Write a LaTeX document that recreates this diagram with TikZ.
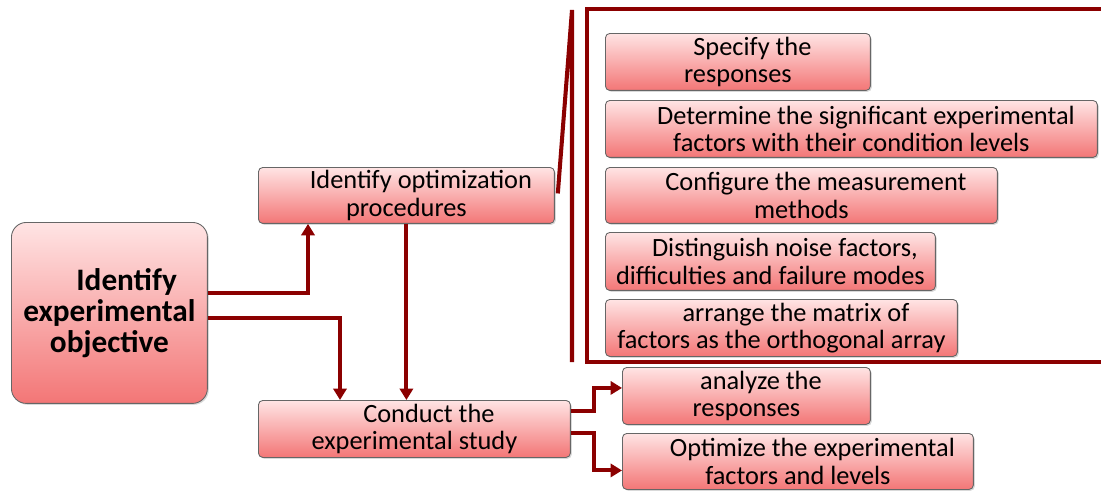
\documentclass[tikz,border=0pt]{standalone}
\usepackage{fontspec}
\setmainfont{Carlito}
\usetikzlibrary{arrows.meta,positioning,shadows}
\definecolor{linkred}{RGB}{139,0,0}
\definecolor{boxtop}{RGB}{255,228,228}
\definecolor{boxbot}{RGB}{243,118,118}
\newcommand\firstgap{\hspace*{1.1em}}

\begin{document}
\begin{tikzpicture}[x=0.02cm,y=-0.02cm,>={Triangle[length=6.5pt,width=7.5pt]},
  stepbox/.style={draw=gray!80!black,line width=0.5pt,rounded corners=2.5pt,
    top color=boxtop,bottom color=boxbot,align=center,anchor=north west,
    font=\fontsize{15}{15.5}\selectfont,inner sep=1pt,
    drop shadow={opacity=0.3,shadow xshift=0.8pt,shadow yshift=-0.8pt}},
  link/.style={draw=linkred,line width=2.3pt}]
\useasboundingbox (0,0) rectangle (1101,491);
\node[stepbox,rounded corners=8.5pt,minimum width=3.92cm,minimum height=3.62cm,
  font=\fontsize{17.8}{17.8}\selectfont\bfseries] (obj) at (11,222)
  {\firstgap Identify\\experimental\\objective};
\node[stepbox,minimum width=5.92cm,minimum height=1.12cm] (opt) at (258,167)
  {\firstgap Identify optimization\\procedures};
\node[stepbox,minimum width=6.24cm,minimum height=1.14cm] (cond) at (258,400)
  {\firstgap Conduct the\\experimental study};
\node[stepbox,minimum width=5.3cm,minimum height=1.14cm] (resp) at (605,33)
  {\firstgap Specify the\\responses};
\node[stepbox,minimum width=9.84cm,minimum height=1.14cm] (factors) at (605,100)
  {\firstgap Determine the significant experimental\\factors with their condition levels};
\node[stepbox,minimum width=7.84cm,minimum height=1.12cm] (measure) at (605,167)
  {\firstgap Configure the measurement\\methods};
\node[stepbox,minimum width=6.6cm,minimum height=1.16cm] (noise) at (605,232)
  {\firstgap Distinguish noise factors,\\difficulties and failure modes};
\node[stepbox,minimum width=7.04cm,minimum height=1.14cm] (matrix) at (605,299)
  {\firstgap arrange the matrix of\\factors as the orthogonal array};
\node[stepbox,minimum width=4.96cm,minimum height=1.14cm] (analyze) at (622,367)
  {\firstgap analyze the\\responses};
\node[stepbox,minimum width=7.02cm,minimum height=1.12cm] (optimize) at (622,433)
  {\firstgap Optimize the experimental\\factors and levels};
% links
\draw[link,->] ([shift={(0,-20)}]obj.east) -| ([shift={(50,0)}]opt.south west);
\draw[link,->] ([shift={(0,5)}]obj.east) -| ([shift={(82,0)}]cond.north west);
\draw[link,->] (opt.south) -- (opt.south |- cond.north);
\draw[link,->] ([shift={(0,-18)}]cond.east) -- ++(23,0) |- ([shift={(0,-8)}]analyze.west);
\draw[link,->] ([shift={(0,4)}]cond.east) -- ++(23,0) |- ([shift={(0,9)}]optimize.west);
% bracket
\coordinate (top) at (572,10);
\draw[link] ([shift={(3,-2)}]opt.east) -- (top) -- (572,362);
\draw[link] (1101,9) -- (587,9) -- (587,362) -- (1101,362);
\end{tikzpicture}
\end{document}
